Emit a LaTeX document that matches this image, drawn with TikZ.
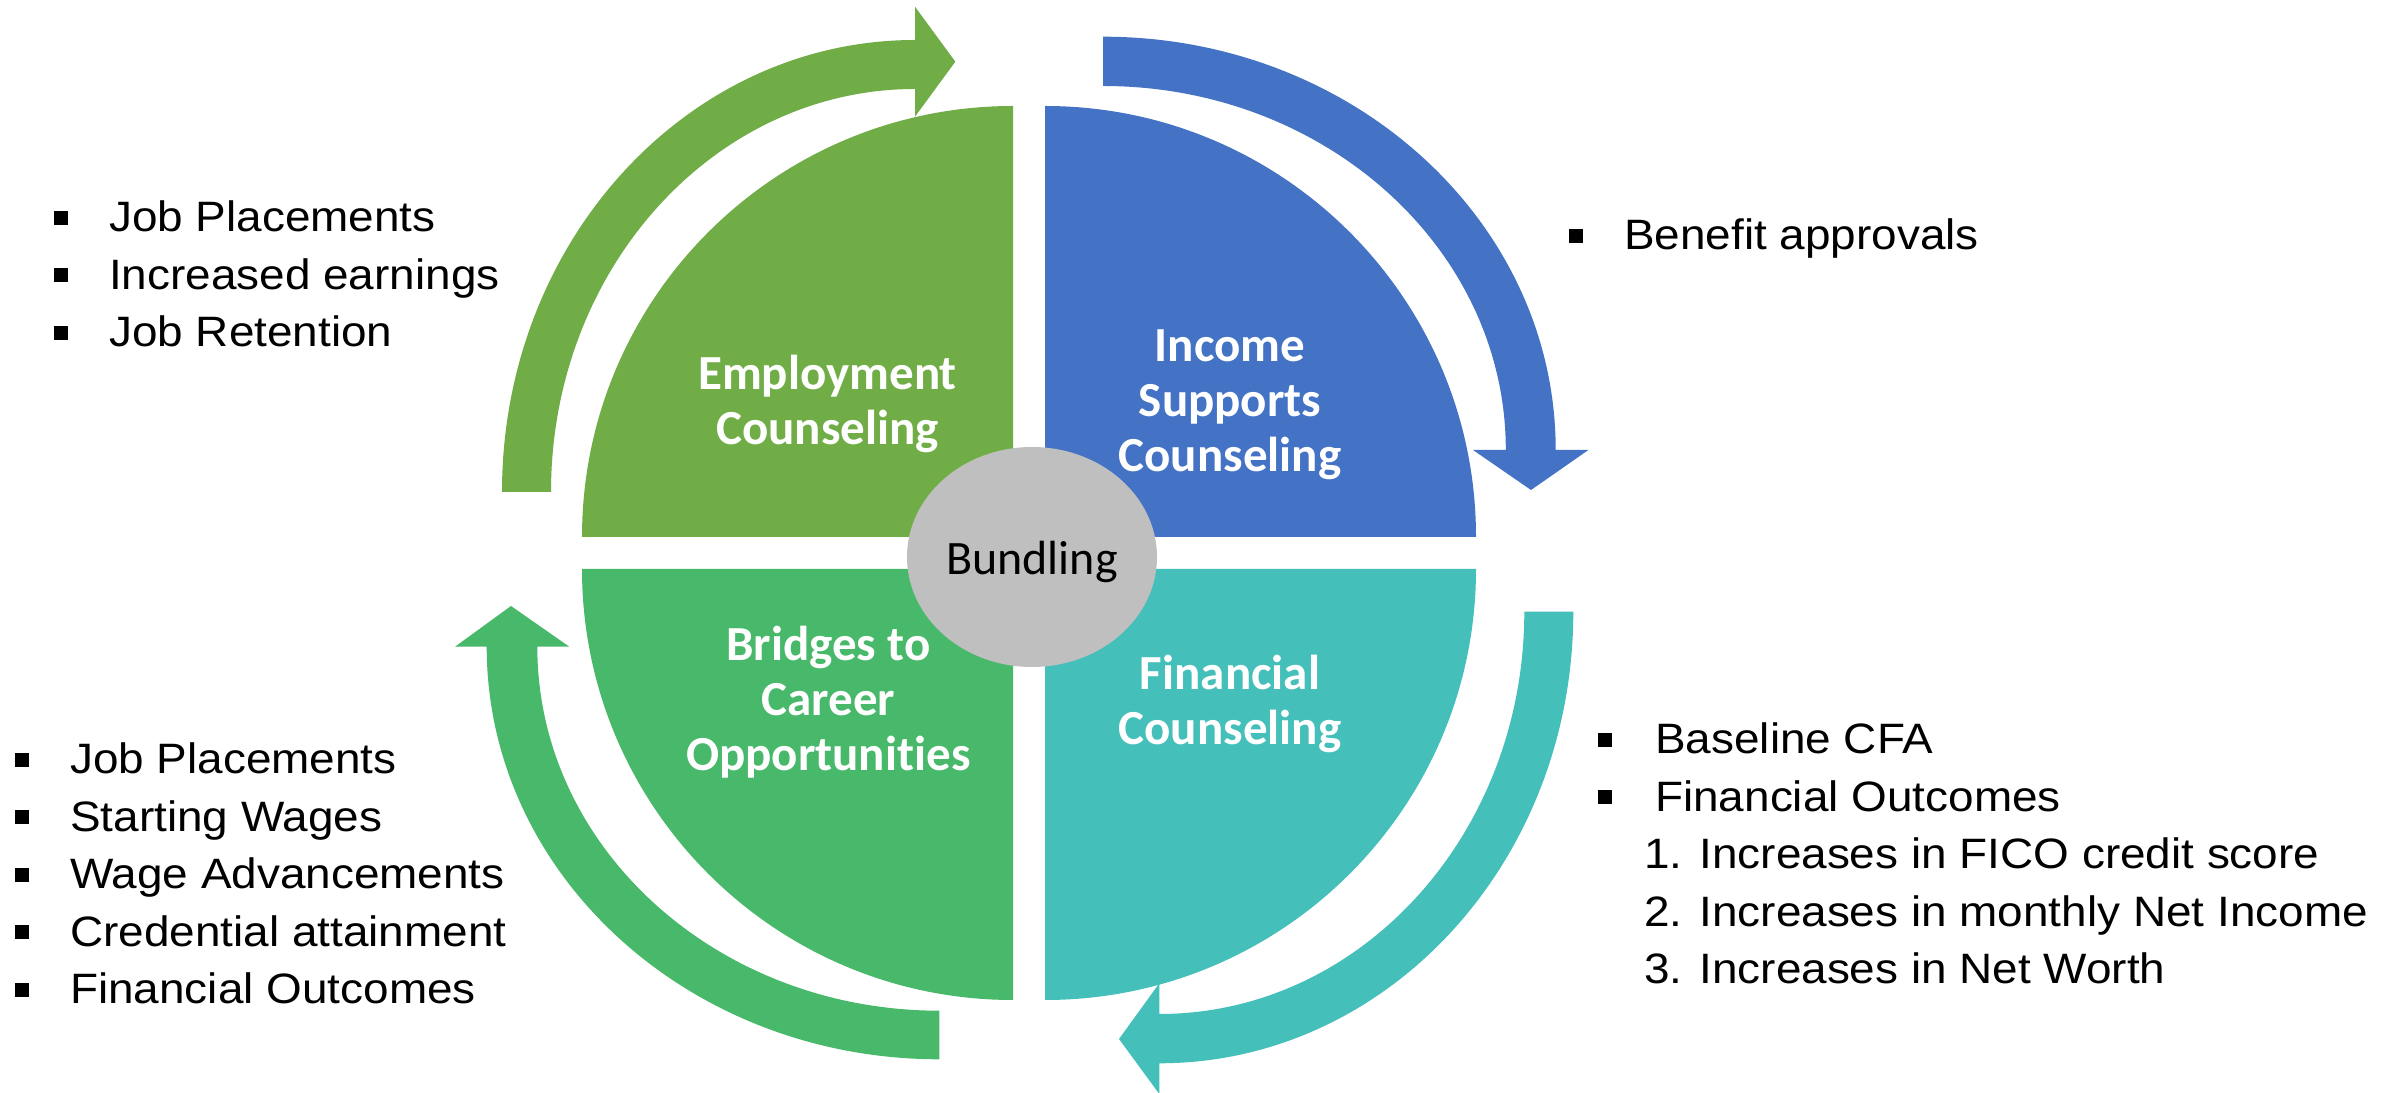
\documentclass[tikz,border=0pt]{standalone}
\usepackage{fontspec}
\usetikzlibrary{shapes.geometric}
\newfontfamily\labfont{Carlito}[Ligatures={NoCommon}]
\newfontfamily\listfont{Liberation Sans}[FakeStretch=1.08]
\definecolor{cgreenA}{HTML}{70AD47}
\definecolor{cblue}{HTML}{4472C4}
\definecolor{cteal}{HTML}{45BFB9}
\definecolor{cgreenB}{HTML}{48B86A}
\definecolor{cgray}{HTML}{BFBFBF}
\newcommand{\bul}{\rule[7pt]{14pt}{14pt}}
\begin{document}
\begin{tikzpicture}[x=1pt,y=1pt,
  lab/.style={text=white, font=\fontsize{49}{55}\selectfont\labfont\bfseries, anchor=base, inner sep=0pt},
  lst/.style={text=black, font=\fontsize{42.5}{57.5}\selectfont\listfont, anchor=base west, inner sep=0pt},
  quad/.style={draw=none},
  arr/.style={draw=none}]
\fill[white] (0,0) rectangle (2387,1092);
\useasboundingbox (0,0) rectangle (2387,1092);

% quadrants
\fill[quad,cgreenA] (1013,555) -- (582,555) arc[start angle=180,end angle=90,radius=431] -- cycle;
\fill[quad,cblue] (1045,555) -- (1045,986) arc[start angle=90,end angle=0,radius=431] -- cycle;
\fill[quad,cteal] (1045,523) -- (1476,523) arc[start angle=0,end angle=-90,radius=431] -- cycle;
\fill[quad,cgreenB] (1013,523) -- (1013,92) arc[start angle=270,end angle=180,radius=431] -- cycle;

% curved arrows
\fill[arr,cgreenA] (502,600) arc[start angle=180,end angle=90,x radius=413,y radius=452]
  -- (915,1085.3) -- (955.3,1030.3) -- (915,975.3) -- (915,1003)
  arc[start angle=90,end angle=180,x radius=364,y radius=403] -- cycle;
\fill[arr,cblue] (1103,1055.3) arc[start angle=90,end angle=0,x radius=452.7,y radius=413.3]
  -- (1588.4,642) -- (1531,602) -- (1473,642) -- (1505.8,642)
  arc[start angle=0,end angle=90,x radius=402.8,y radius=364] -- cycle;
\fill[arr,cteal] (1573.3,480.3) arc[start angle=0,end angle=-90,x radius=414,y radius=451.6]
  -- (1159.3,-2) -- (1119,53) -- (1159.3,108.7) -- (1159.3,78)
  arc[start angle=-90,end angle=0,x radius=365,y radius=402.3] -- cycle;
\fill[arr,cgreenB] (939.3,32.7) arc[start angle=270,end angle=180,x radius=452.6,y radius=412.6]
  -- (455,445.3) -- (511,486) -- (569.3,445.3) -- (537.3,445.3)
  arc[start angle=180,end angle=270,x radius=402,y radius=364] -- cycle;

% centre
\node[ellipse, fill=cgray, minimum width=250pt, minimum height=220pt, inner sep=0pt,
  font=\fontsize{48}{55}\selectfont\labfont, text height=40pt, text depth=4pt] (bund) at (1032,535) {Bundling};

% quadrant labels
\node[lab] (emp) at (827.5,702) {\begin{tabular}[t]{@{}c@{}}Employment\\Counseling\end{tabular}};
\node[lab] (inc) at (1230,730.3) {\begin{tabular}[t]{@{}c@{}}Income\\Supports\\Counseling\end{tabular}};
\node[lab] (fin) at (1230,402.7) {\begin{tabular}[t]{@{}c@{}}Financial\\Counseling\end{tabular}};
\node[lab] (bri) at (828.3,431.3) {\begin{tabular}[t]{@{}c@{}}Bridges to\\Career\\Opportunities\end{tabular}};

% outcome lists
\node[lst] (ltl) at (54,860.3) {\begin{tabular}[t]{@{}l@{\hspace{41pt}}l@{}}
\bul & Job Placements\\
\bul & Increased earnings\\
\bul & Job Retention\end{tabular}};
\node[lst] (ltr) at (1569,842) {\begin{tabular}[t]{@{}l@{\hspace{41pt}}l@{}}
\bul & Benefit approvals\end{tabular}};
\node[lst] (lbl) at (15,318) {\begin{tabular}[t]{@{}l@{\hspace{41pt}}l@{}}
\bul & Job Placements\\
\bul & Starting Wages\\
\bul & Wage Advancements\\
\bul & Credential attainment\\
\bul & Financial Outcomes\end{tabular}};
\node[lst] (lbr) at (1598,338) {\begin{tabular}[t]{@{}l@{\hspace{43pt}}l@{}}
\bul & Baseline CFA\\
\bul & Financial Outcomes\\
\multicolumn{2}{@{\hspace{46pt}}l@{}}{1. Increases in FICO credit score}\\
\multicolumn{2}{@{\hspace{46pt}}l@{}}{2. Increases in monthly Net Income}\\
\multicolumn{2}{@{\hspace{46pt}}l@{}}{3. Increases in Net Worth}\end{tabular}};
\end{tikzpicture}
\end{document}
